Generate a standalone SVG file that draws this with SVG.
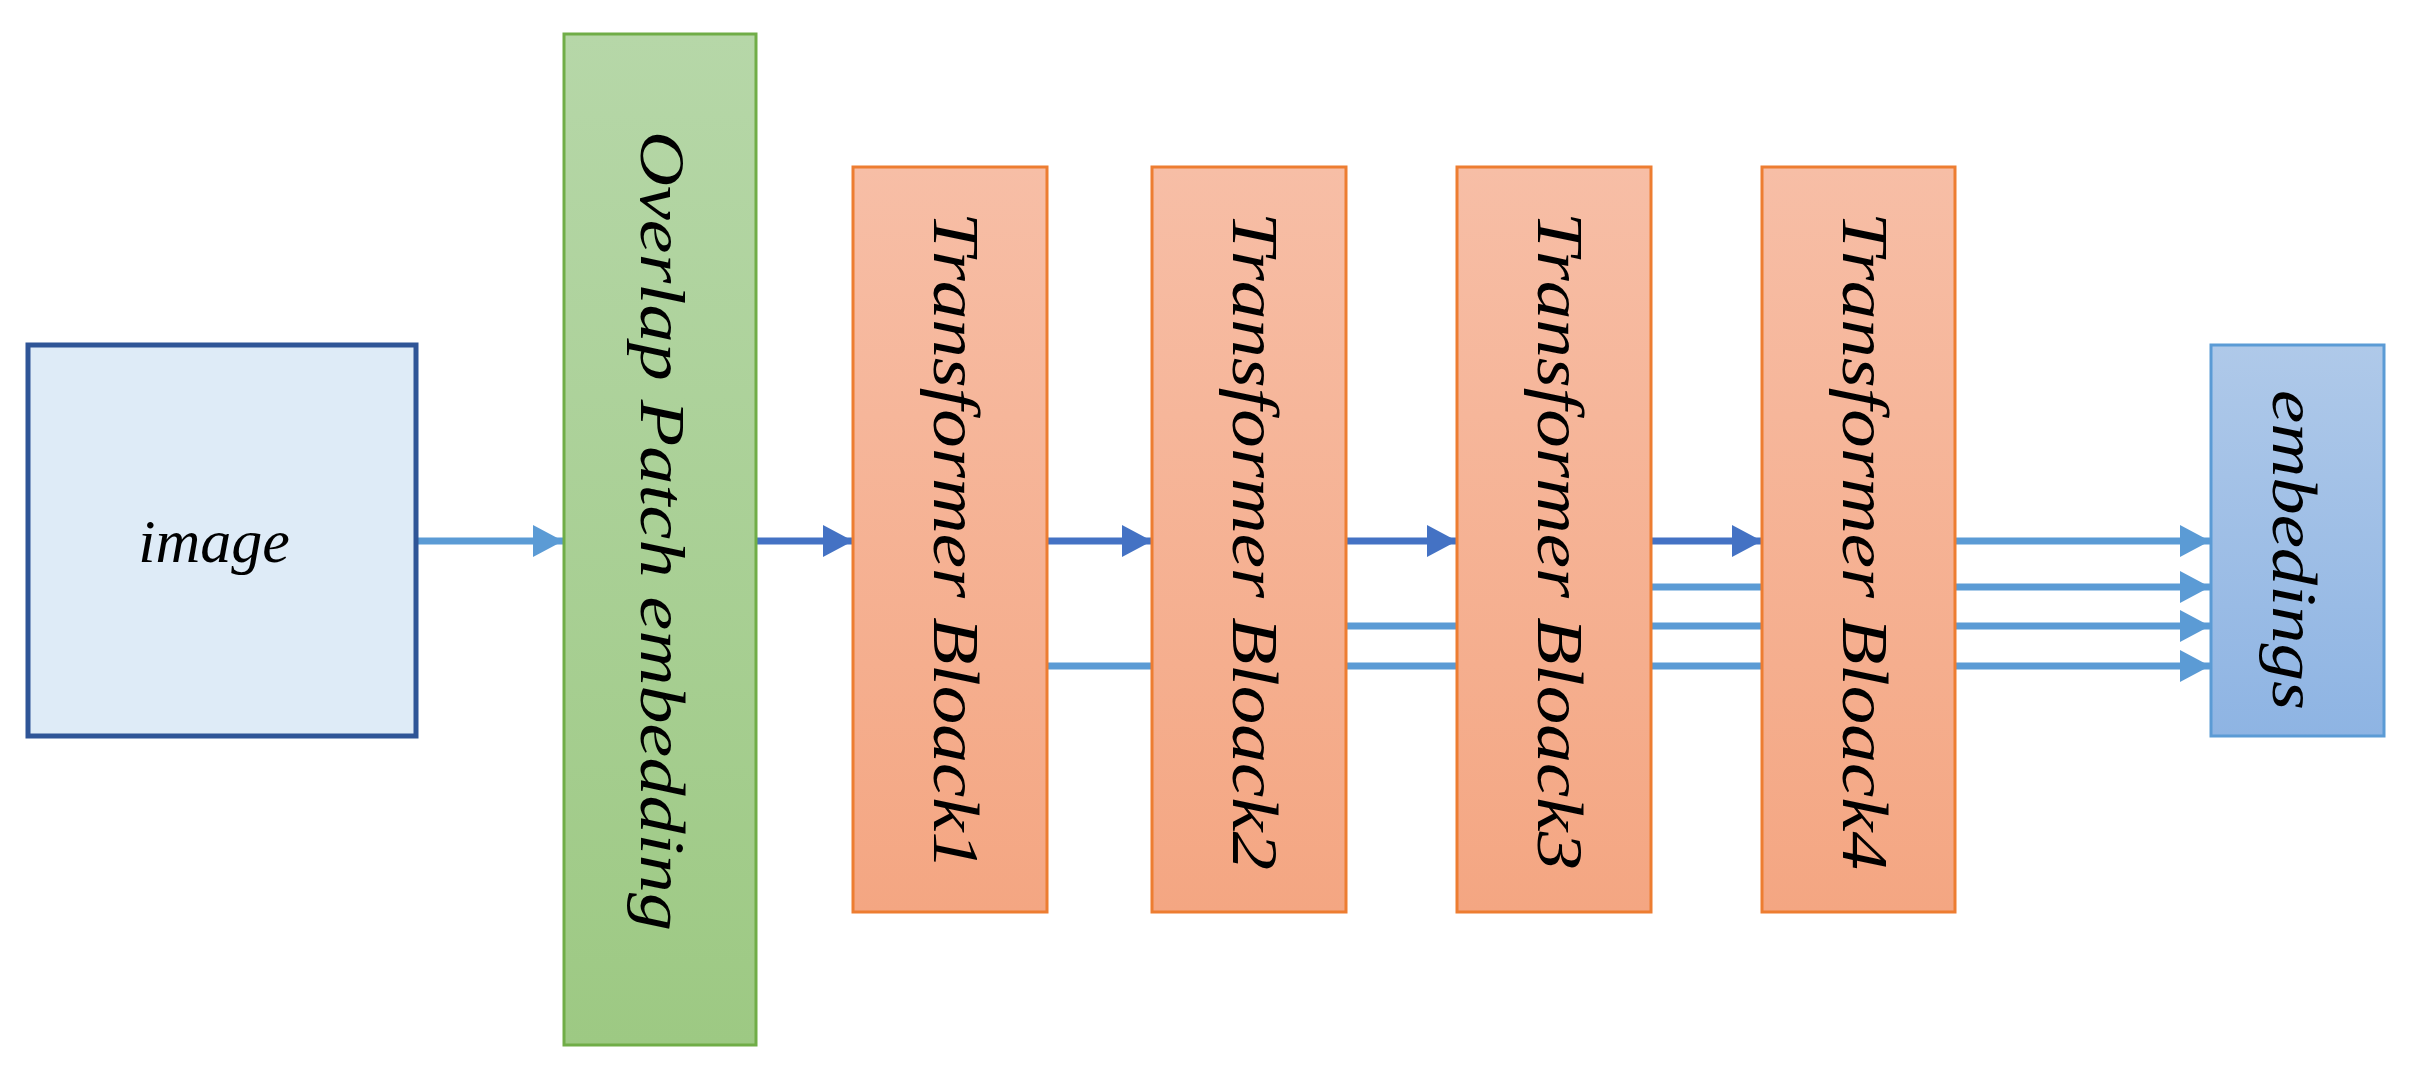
<svg xmlns="http://www.w3.org/2000/svg" width="2418" height="1078" viewBox="0 0 2418 1078">
<style>
.t{font-family:"Liberation Serif",serif;font-style:italic;fill:#000;text-anchor:middle}
.lt{stroke:#5B9BD5;stroke-width:7;fill:none}
.dk{stroke:#4472C4;stroke-width:7;fill:none}
</style>
<defs>
<linearGradient id="gg" x1="0" y1="0" x2="0" y2="1"><stop offset="0" stop-color="#B6D7A8"/><stop offset="1" stop-color="#9DC983"/></linearGradient>
<linearGradient id="og" x1="0" y1="0" x2="0" y2="1"><stop offset="0" stop-color="#F7BEA6"/><stop offset="1" stop-color="#F4A682"/></linearGradient>
<linearGradient id="bg" x1="0" y1="0" x2="0" y2="1"><stop offset="0" stop-color="#AFC9E9"/><stop offset="1" stop-color="#8EB4E3"/></linearGradient>
<marker id="al" markerUnits="userSpaceOnUse" markerWidth="30" markerHeight="32" refX="30" refY="16" orient="auto"><path d="M0,0L30,16L0,32Z" fill="#5B9BD5"/></marker>
<marker id="ad" markerUnits="userSpaceOnUse" markerWidth="30" markerHeight="32" refX="30" refY="16" orient="auto"><path d="M0,0L30,16L0,32Z" fill="#4472C4"/></marker>
</defs>
<g id="connectors">
<line class="lt" x1="416" y1="541" x2="563" y2="541" marker-end="url(#al)"/>
<line class="dk" x1="756" y1="541" x2="853" y2="541" marker-end="url(#ad)"/>
<line class="dk" x1="1047" y1="541" x2="1152" y2="541" marker-end="url(#ad)"/>
<line class="dk" x1="1346" y1="541" x2="1457" y2="541" marker-end="url(#ad)"/>
<line class="dk" x1="1651" y1="541" x2="1762" y2="541" marker-end="url(#ad)"/>
<line class="lt" x1="1955" y1="541" x2="2210" y2="541" marker-end="url(#al)"/>
<line class="lt" x1="1651" y1="587" x2="2210" y2="587" marker-end="url(#al)"/>
<line class="lt" x1="1346" y1="626" x2="2210" y2="626" marker-end="url(#al)"/>
<line class="lt" x1="1047" y1="666" x2="2210" y2="666" marker-end="url(#al)"/>
</g>
<g id="image"><rect x="28" y="345" width="388" height="391" fill="#DEEBF7" stroke="#2F5597" stroke-width="5"/><text class="t" x="214" y="562" font-size="62">image</text></g>
<g id="patch"><rect x="564" y="34" width="192" height="1011" fill="url(#gg)" stroke="#70AD47" stroke-width="3"/><text class="t" font-size="64" transform="translate(663,531) rotate(90)" y="22" textLength="800" lengthAdjust="spacingAndGlyphs">Overlap Patch embedding</text></g>
<g id="b1"><rect x="853" y="167" width="194" height="745" fill="url(#og)" stroke="#ED7D31" stroke-width="3"/><text class="t" font-size="66" transform="translate(956,541) rotate(90)" y="22" textLength="658" lengthAdjust="spacingAndGlyphs">Transformer Bloack1</text></g>
<g id="b2"><rect x="1152" y="167" width="194" height="745" fill="url(#og)" stroke="#ED7D31" stroke-width="3"/><text class="t" font-size="66" transform="translate(1255,541) rotate(90)" y="22" textLength="658" lengthAdjust="spacingAndGlyphs">Transformer Bloack2</text></g>
<g id="b3"><rect x="1457" y="167" width="194" height="745" fill="url(#og)" stroke="#ED7D31" stroke-width="3"/><text class="t" font-size="66" transform="translate(1560,541) rotate(90)" y="22" textLength="658" lengthAdjust="spacingAndGlyphs">Transformer Bloack3</text></g>
<g id="b4"><rect x="1762" y="167" width="193" height="745" fill="url(#og)" stroke="#ED7D31" stroke-width="3"/><text class="t" font-size="66" transform="translate(1865,541) rotate(90)" y="22" textLength="658" lengthAdjust="spacingAndGlyphs">Transformer Bloack4</text></g>
<g id="emb"><rect x="2211" y="345" width="173" height="391" fill="url(#bg)" stroke="#5B9BD5" stroke-width="3"/><text class="t" font-size="64" transform="translate(2293,550) rotate(90)" y="20" textLength="320" lengthAdjust="spacingAndGlyphs">embedings</text></g>
</svg>
